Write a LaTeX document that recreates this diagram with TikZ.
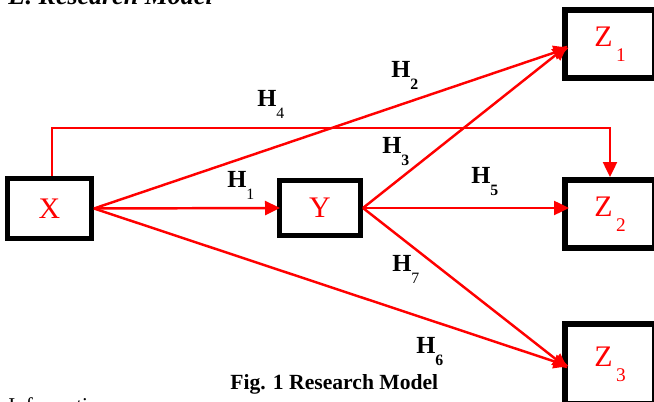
\documentclass[tikz,border=0pt]{standalone}
\usepackage{fontspec}
\setmainfont{Liberation Serif}
\usetikzlibrary{arrows.meta}
\newcommand{\hyp}[1]{\textbf{H}\raisebox{-6.8pt}{\fontsize{9}{9}\selectfont #1}}
\newcommand{\zsub}[1]{Z\kern2pt\raisebox{-8.5pt}{\fontsize{11}{11}\selectfont #1}}
\begin{document}
\begin{tikzpicture}[x=0.02cm, y=-0.02cm, >={Triangle[length=0.3cm,width=0.28cm]},
  var/.style={draw=black, line width=0.1cm, text=red, inner sep=0pt, font=\fontsize{17}{17}\selectfont},
  zbox/.style={var, line width=0.12cm, minimum width=1.8cm},
  link/.style={->, red, line width=1.4pt},
  hlab/.style={anchor=base west, inner sep=0pt, font=\fontsize{14}{14}\selectfont}]
\useasboundingbox (0,0) rectangle (654,402);
\clip (0,0) rectangle (654,402);

% page text
\node[anchor=base west, inner sep=0pt, font=\fontsize{14.8}{14.8}\selectfont\bfseries\itshape] (title) at (8,5) {E. Research Model};
\node[anchor=base west, inner sep=0pt, font=\fontsize{12.3}{12.3}\selectfont\bfseries] (caption) at (230,390) {Fig. 1 Research Model};
\node[anchor=base west, inner sep=0pt, font=\fontsize{12}{12}\selectfont] (info) at (8,413) {Information};

% variables
\node[var, minimum width=1.68cm, minimum height=1.2cm] (X) at (49.5,208.5) {X};
\node[var, minimum width=1.62cm, minimum height=1.1cm] (Y) at (320,208) {Y};
\node[zbox, minimum height=1.36cm] (Z1) at (610,44) {\zsub{1}};
\node[zbox, minimum height=1.36cm] (Z2) at (610,214) {\zsub{2}};
\node[zbox, minimum height=1.6cm] (Z3) at (610,364) {\zsub{3}};

\coordinate (h4top) at (0,128);
\coordinate (z1in) at ([yshift=-0.12cm]Z1.west);

% paths
\draw[link, shorten >=-0.06cm] (X.east) -- (Y.west);
\draw[link, shorten >=-0.14cm] (X.east) -- (z1in);
\draw[link, shorten >=-0.14cm] (X.east) -- (Z3.west);
\draw[link] ([xshift=0.05cm]X.north) -- ([xshift=0.05cm]X.north |- h4top) -| (Z2.north);
\draw[link, shorten >=-0.14cm] (Y.east) -- (z1in);
\draw[link, shorten >=-0.14cm] (Y.east) -- (Z2.west |- Y.east);
\draw[link, shorten >=-0.14cm] (Y.east) -- (Z3.west);

% hypotheses
\node[hlab] (h1) at (227,188) {\hyp{1}};
\node[hlab] (h2) at (391,78) {\hyp{\textbf{2}}};
\node[hlab] (h3) at (382,154) {\hyp{\textbf{3}}};
\node[hlab] (h4) at (257,107) {\hyp{4}};
\node[hlab] (h5) at (471,184) {\hyp{\textbf{5}}};
\node[hlab] (h6) at (416,354) {\hyp{\textbf{6}}};
\node[hlab] (h7) at (392,272) {\hyp{7}};
\end{tikzpicture}
\end{document}
